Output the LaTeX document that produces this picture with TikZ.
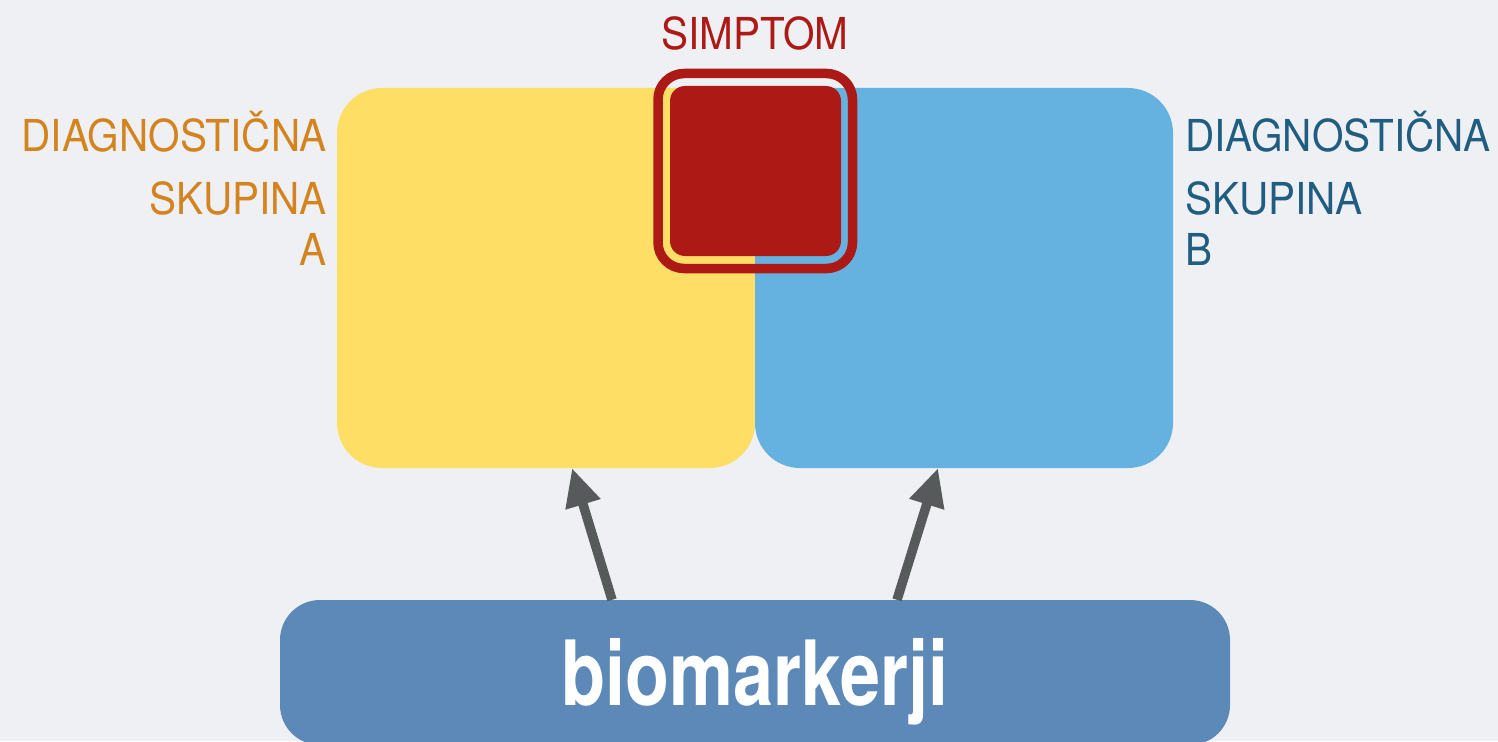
\documentclass[tikz,border=0pt]{standalone}
\usepackage{fontspec}
\usepackage{tikz}
\usetikzlibrary{calc,arrows.meta}
\newfontfamily\labelfont[FakeStretch=0.92]{TeX Gyre Heros}
\newfontfamily\biofont[FakeStretch=0.8]{TeX Gyre Heros}
\definecolor{bgcol}{HTML}{EFF0F4}
\definecolor{yellowA}{HTML}{FEDE64}
\definecolor{blueB}{HTML}{65B2E0}
\definecolor{symred}{HTML}{AD1915}
\definecolor{orangeA}{HTML}{D4841F}
\definecolor{tealB}{HTML}{1F5E80}
\definecolor{arrgray}{HTML}{575A5A}
\definecolor{biobox}{HTML}{5D89B9}
\tikzset{
  grpbox/.style={rectangle,draw=none,inner sep=0pt,outer sep=0pt,rounded corners=45pt,minimum width=418pt,minimum height=380pt},
  lbl/.style={inner sep=0pt,font=\labelfont\fontsize{44}{44}\selectfont},
  uparrow/.style={draw=arrgray,line width=9.5pt,-{Triangle[length=38pt,width=34pt]}}
}

\begin{document}
\begin{tikzpicture}[x=1pt,y=1pt,yscale=-1,xscale=1]
\useasboundingbox (0,0) rectangle (1498,741);
%Background
\fill [bgcol] (0,0) rectangle (1498,741);

%Rounded Rect [group A]
\node [grpbox,fill=yellowA] (grpA) at (546,278) {};
%Rounded Rect [group B]
\node [grpbox,fill=blueB] (grpB) at (964,278) {};

%Rounded Rect [symptom ring]
\node [rectangle,draw=symred,line width=9.5pt,rounded corners=26pt,minimum width=194.5pt,minimum height=195pt,inner sep=0pt] (sym) at (755.25,171) {};
%Rounded Rect [symptom core]
\node [rectangle,fill=symred,rounded corners=15pt,minimum width=171pt,minimum height=170pt,inner sep=0pt] (symcore) at (755.5,171) {};

%Rounded Rect [biomarkers]
\node [rectangle,fill=biobox,rounded corners=40pt,minimum width=950pt,minimum height=145pt,inner sep=0pt] (bio) at (755,672.5) {};

%Arrows
\draw [uparrow] ([xshift=-143pt]bio.north) -- ([xshift=26pt]grpA.south);
\draw [uparrow] ([xshift=142pt]bio.north) -- ([xshift=-26pt]grpB.south);

% Text Node
\node [lbl,text=symred,anchor=base] (simlabel) at (755,50) {SIMPTOM};
% Text Node
\node [lbl,text=orangeA,anchor=base east] (labA1) at (327,151) {DIAGNOSTIČNA};
\node [lbl,text=orangeA,anchor=base east] (labA2) at (327,214) {SKUPINA};
\node [lbl,text=orangeA,anchor=base east] (labA3) at (327,265) {A};
% Text Node
\node [lbl,text=tealB,anchor=base west] (labB1) at (1185,151) {DIAGNOSTIČNA};
\node [lbl,text=tealB,anchor=base west] (labB2) at (1185,214) {SKUPINA};
\node [lbl,text=tealB,anchor=base west] (labB3) at (1185,265) {B};
% Text Node
\node [inner sep=0pt,anchor=base,text=white,font=\biofont\bfseries\fontsize{90}{90}\selectfont] (biolabel) at (755,705) {biomarkerji};
\end{tikzpicture}
\end{document}
